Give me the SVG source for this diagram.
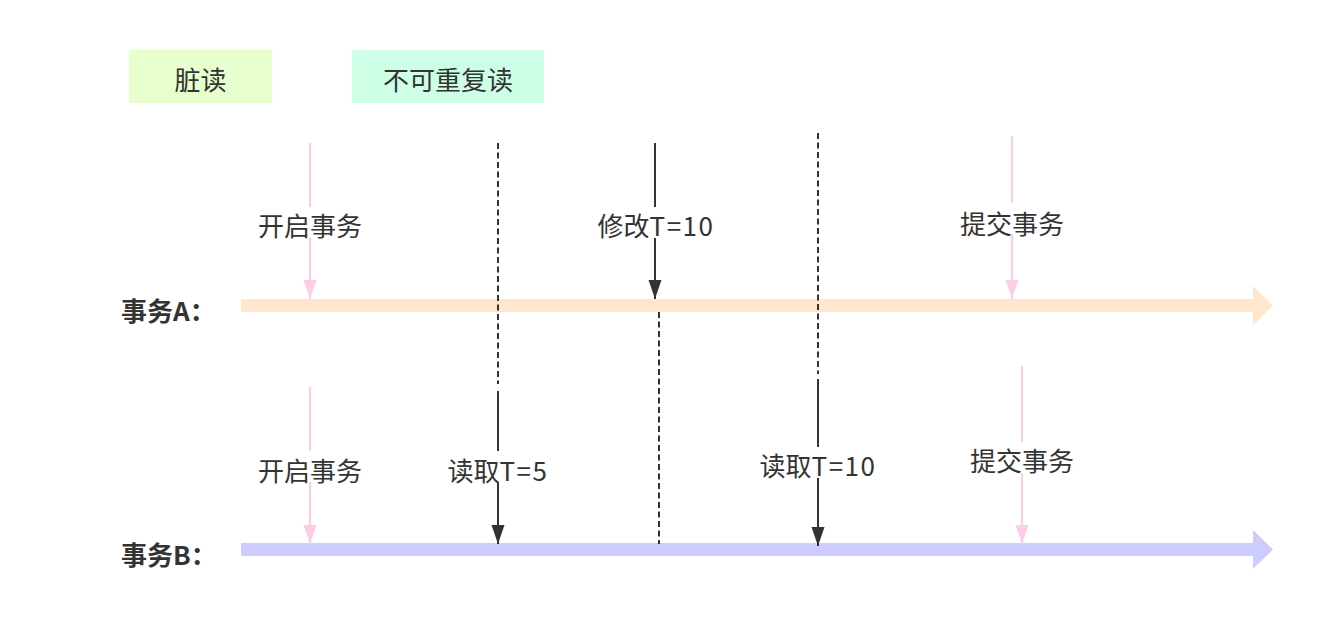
<svg xmlns="http://www.w3.org/2000/svg" width="1323" height="639" viewBox="0 0 1323 639">
  <style>
    text { font-family: "Noto Sans CJK SC", "Noto Sans", sans-serif; fill: #333333; }
    .lbl { font-size: 26px; text-anchor: middle; dominant-baseline: central; }
    .lat { letter-spacing: 1.5px; }
    .title { font-size: 26px; font-weight: bold; dominant-baseline: central; }
    .dark { stroke: #333333; stroke-width: 2; fill: none; }
    .pink { stroke: #FFCCE6; stroke-width: 2; fill: none; }
    .dash { stroke: #333333; stroke-width: 2; fill: none; stroke-dasharray: 6 3.5; }
    .bg { fill: #ffffff; }
  </style>
  <defs>
    <marker id="headDark" markerUnits="userSpaceOnUse" markerWidth="20" markerHeight="14" viewBox="0 0 20 14" refX="19" refY="7" orient="auto">
      <path d="M0,0.5 L19,7 L0,13.5 z" fill="#333333"/>
    </marker>
    <marker id="headPink" markerUnits="userSpaceOnUse" markerWidth="20" markerHeight="14" viewBox="0 0 20 14" refX="19" refY="7" orient="auto">
      <path d="M0,0.5 L19,7 L0,13.5 z" fill="#FFCCE6"/>
    </marker>
  </defs>
  <rect width="1323" height="639" fill="#ffffff"/>

  <g id="legend-dirty">
    <rect x="129" y="50" width="143" height="53" fill="#E6FFCC"/>
    <text class="lbl" x="200.5" y="78">脏读</text>
  </g>
  <g id="legend-nonrepeat">
    <rect x="352" y="50" width="192" height="53" fill="#CCFFE6"/>
    <text class="lbl" x="448" y="78">不可重复读</text>
  </g>

  <g id="timeline-A">
    <polygon points="241,299 1253,299 1253,286 1273,305.5 1253,325 1253,312 241,312" fill="#FFE6CC"/>
    <text class="title" x="121" y="309">事务A：</text>
  </g>
  <g id="timeline-B">
    <polygon points="241,543 1253,543 1253,530 1273,549.5 1253,569 1253,556 241,556" fill="#CCCCFF"/>
    <text class="title" x="121" y="553">事务B：</text>
  </g>

  <g id="connectors">
    <line class="dash" x1="498" y1="143" x2="498" y2="384"/>
    <line class="dash" x1="818" y1="133" x2="818" y2="374"/>
    <line class="dash" x1="659" y1="312" x2="659" y2="544"/>

    <line class="pink" x1="310" y1="143" x2="310" y2="299" marker-end="url(#headPink)"/>
    <line class="dark" x1="655" y1="143" x2="655" y2="299" marker-end="url(#headDark)"/>
    <line class="pink" x1="1012" y1="136" x2="1012" y2="299" marker-end="url(#headPink)"/>

    <line class="pink" x1="310" y1="387" x2="310" y2="544" marker-end="url(#headPink)"/>
    <line class="dark" x1="498" y1="391" x2="498" y2="544" marker-end="url(#headDark)"/>
    <line class="dark" x1="818" y1="379" x2="818" y2="546" marker-end="url(#headDark)"/>
    <line class="pink" x1="1022" y1="366" x2="1022" y2="544" marker-end="url(#headPink)"/>
  </g>

  <g id="label-A-begin">
    <rect class="bg" x="256" y="207" width="108" height="31"/>
    <text class="lbl" x="310" y="224">开启事务</text>
  </g>
  <g id="label-A-modify">
    <rect class="bg" x="595" y="207" width="122" height="31"/>
    <text class="lbl" x="656" y="224">修改<tspan class="lat">T=10</tspan></text>
  </g>
  <g id="label-A-commit">
    <rect class="bg" x="958" y="203" width="108" height="31"/>
    <text class="lbl" x="1012" y="222">提交事务</text>
  </g>
  <g id="label-B-begin">
    <rect class="bg" x="256" y="451" width="108" height="31"/>
    <text class="lbl" x="310" y="469">开启事务</text>
  </g>
  <g id="label-B-read5">
    <rect class="bg" x="445" y="451" width="106" height="31"/>
    <text class="lbl" x="498" y="469">读取<tspan class="lat">T=5</tspan></text>
  </g>
  <g id="label-B-read10">
    <rect class="bg" x="757" y="447" width="122" height="31"/>
    <text class="lbl" x="818" y="464">读取<tspan class="lat">T=10</tspan></text>
  </g>
  <g id="label-B-commit">
    <rect class="bg" x="968" y="442" width="108" height="31"/>
    <text class="lbl" x="1022" y="459">提交事务</text>
  </g>
</svg>
